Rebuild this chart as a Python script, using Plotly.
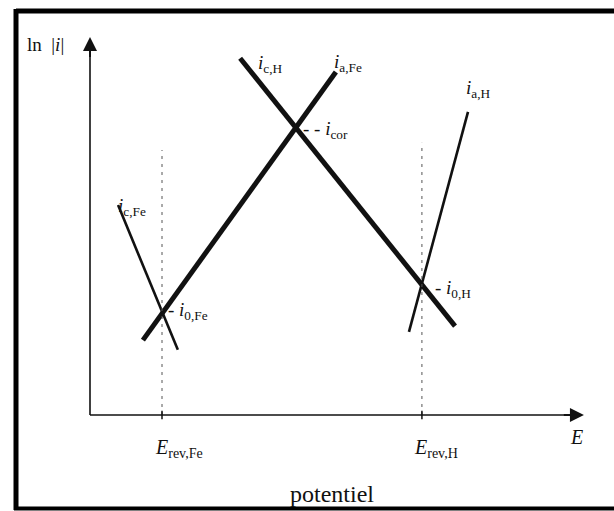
import plotly.graph_objects as go

# Evans diagram: ln|i| versus potential E for iron corrosion in acid
# Reversible potentials and exchange current densities (arbitrary units)
E_rev_Fe, E_rev_H = 2.0, 9.22
lnI0_Fe, lnI0_H = 2.83, 3.64
E_cor, lnI_cor = 5.69, 7.97

# Tafel branches, as end points (E, ln|i|)
aFe_E, aFe_lnI = [1.47, 6.83], [2.08, 9.53]      # anodic Fe (thick)
cH_E, cH_lnI = [4.17, 10.14], [9.91, 2.47]       # cathodic H (thick)
cFe_E, cFe_lnI = [0.78, 2.44], [5.83, 1.81]      # cathodic Fe (thin)
aH_E, aH_lnI = [8.86, 10.5], [2.31, 8.42]        # anodic H (thin)

# axis extents
E_axis_end, lnI_axis_end = 13.72, 10.5
guide_top_Fe, guide_top_H = 7.36, 7.56

W, H = 614, 511
# data <-> pixel scale: origin at (90, 415) px, 36 px per unit
ORIG_X, ORIG_Y, SCALE = 90, 415, 36.0

def px(x):
    return x / W

def py(y):
    return 1 - y / H

fig = go.Figure()

ink = "#111111"
for xs, ys, w in [(aFe_E, aFe_lnI, 5), (cH_E, cH_lnI, 5),
                  (cFe_E, cFe_lnI, 2.6), (aH_E, aH_lnI, 2.6)]:
    fig.add_trace(go.Scatter(x=xs, y=ys, mode="lines",
                             line=dict(color=ink, width=w),
                             hoverinfo="skip", showlegend=False))

# dashed guides at the reversible potentials
for e, top in [(E_rev_Fe, guide_top_Fe), (E_rev_H, guide_top_H)]:
    fig.add_trace(go.Scatter(x=[e, e], y=[0, top], mode="lines",
                             line=dict(color="#555555", width=1, dash="3px,5px"),
                             hoverinfo="skip", showlegend=False))
    fig.add_trace(go.Scatter(x=[e, e], y=[-0.12, 0.12], mode="lines",
                             line=dict(color=ink, width=1.5),
                             hoverinfo="skip", showlegend=False))

# axes with arrows
fig.add_trace(go.Scatter(x=[0, E_axis_end - 0.3], y=[0, 0], mode="lines",
                         line=dict(color=ink, width=1.6),
                         hoverinfo="skip", showlegend=False))
fig.add_trace(go.Scatter(x=[0, 0], y=[0, lnI_axis_end - 0.3], mode="lines",
                         line=dict(color=ink, width=1.6),
                         hoverinfo="skip", showlegend=False))

annotations = [
    dict(x=E_axis_end, y=0, ax=E_axis_end - 0.6, ay=0, xref="x", yref="y",
         axref="x", ayref="y", showarrow=True, arrowhead=2, arrowsize=1.4,
         arrowwidth=2, arrowcolor=ink, text=""),
    dict(x=0, y=lnI_axis_end, ax=0, ay=lnI_axis_end - 0.6, xref="x", yref="y",
         axref="x", ayref="y", showarrow=True, arrowhead=2, arrowsize=1.4,
         arrowwidth=2, arrowcolor=ink, text=""),
]

serif = "Liberation Serif"
labels = [
    ("ln  |<i>i</i>|", 25, 44, 19),
    ("<i>i</i><sub>c,H</sub>", 256, 64, 19),
    ("<i>i</i><sub>a,Fe</sub>", 332, 63, 19),
    ("- - <i>i</i><sub>cor</sub>", 301, 130, 19),
    ("<i>i</i><sub>a,H</sub>", 464, 89, 19),
    ("<i>i</i><sub>c,Fe</sub>", 116, 207, 19),
    ("- <i>i</i><sub>0,Fe</sub>", 166, 311, 19),
    ("- <i>i</i><sub>0,H</sub>", 433, 289, 19),
    ("<i>E</i><sub>rev,Fe</sub>", 153, 448, 20),
    ("<i>E</i><sub>rev,H</sub>", 412, 448, 20),
    ("<i>E</i>", 568, 437, 20),
]
for text, x, y, size in labels:
    annotations.append(dict(x=px(x), y=py(y), xref="paper", yref="paper",
                            text=text, showarrow=False, xanchor="left",
                            yanchor="middle",
                            font=dict(family=serif, size=size, color=ink)))
annotations.append(dict(x=px(332), y=py(494), xref="paper", yref="paper",
                        text="potentiel", showarrow=False, xanchor="center",
                        yanchor="middle",
                        font=dict(family=serif, size=24, color=ink)))

# heavy frame around the figure (open on the right)
frame = dict(color="#000000", width=5)
shapes = [
    dict(type="line", xref="paper", yref="paper", x0=px(16), x1=1.02,
         y0=py(11), y1=py(11), line=frame),
    dict(type="line", xref="paper", yref="paper", x0=px(16), x1=px(16),
         y0=py(9), y1=py(510), line=frame),
    dict(type="line", xref="paper", yref="paper", x0=px(14), x1=1.02,
         y0=py(508.5), y1=py(508.5), line=dict(color="#000000", width=4)),
]

fig.update_layout(
    width=W, height=H,
    margin=dict(l=0, r=0, t=0, b=0),
    paper_bgcolor="white", plot_bgcolor="white",
    xaxis=dict(range=[-ORIG_X / SCALE, (W - ORIG_X) / SCALE], visible=False,
               fixedrange=True),
    yaxis=dict(range=[-(H - ORIG_Y) / SCALE, ORIG_Y / SCALE], visible=False,
               fixedrange=True),
    annotations=annotations,
    shapes=shapes,
)

fig.write_html("out.html")
